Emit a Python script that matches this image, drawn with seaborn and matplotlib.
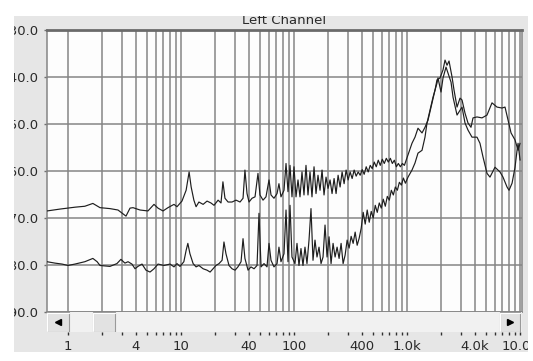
import numpy as np
import pandas as pd
import matplotlib
matplotlib.use("Agg")
import matplotlib.pyplot as plt
from matplotlib.patches import Rectangle
import seaborn as sns

# ---------------- data ----------------
title = "Left Channel"

freq_a = [0.652, 0.85, 1.153, 1.41, 1.66, 1.92, 2.35, 2.77, 3.26, 3.54, 3.76, 4.34, 5.10, 5.77, 6.26, 6.93, 7.67, 8.67, 9.22,
          10.2, 11.1, 11.8, 12.3, 13.0, 13.6, 14.4, 15.7, 17.0, 18.4, 19.6, 21.3, 22.6, 23.5, 24.5, 26.1, 28.3, 30.7, 33.3, 35.4,
          36.8, 38.4, 40.0, 42.5, 45.2, 48.0, 50.0, 53.2, 56.5, 60.1, 62.6, 66.5, 70.8, 73.6, 76.7, 81.6, 85.0, 88.5, 92.2, 96.0,
          100, 104.2, 108.5, 113, 117.7, 122.6, 127.7, 133, 138.6, 144.3, 150.4, 156.6, 163.1, 170, 177.1, 184.4, 192.1, 200.1,
          208.5, 217.2, 226.3, 235.7, 245.6, 255.8, 266.5, 277.6, 289.2, 301.3, 313.9, 327, 340.7, 354.9, 369.7, 385.2, 401.3,
          418, 435.5, 453.7, 472.7, 492.5, 513, 534.5, 556.9, 580.1, 604.4, 629.6, 656, 683.4, 712, 741.7, 772.7, 805.1, 838.7,
          873.8, 910.3, 948.3,
          1107, 1177, 1251, 1358, 1443, 1534, 1664, 1769, 1843, 1959, 2083, 2170, 2261, 2355, 2504, 2608, 2772, 2946, 3069,
          3262, 3467, 3684, 3838, 4163, 4610, 5105, 5652, 6258, 6928, 7368, 7835, 8332, 9038, 9611, 10013]
db_a = [-68.5, -68.1, -67.7, -67.5, -66.9, -67.8, -68.0, -68.3, -69.6, -67.9, -67.8, -68.3, -68.5, -67.1, -67.9, -68.5, -67.8, -67.1, -67.6,
        -66.4, -64.1, -60.2, -63.4, -66.2, -67.6, -66.6, -67.1, -66.4, -66.8, -67.3, -66.2, -66.8, -62.3, -65.8, -66.6, -66.6, -66.2, -66.6, -65.8,
        -59.8, -64.8, -66.6, -65.8, -65.5, -60.5, -65.1, -66.2, -65.5, -61.9, -65.1, -65.8, -64.8, -62.7, -65.5, -64.1, -58.4, -64.4, -58.8, -65.5,
        -59.1, -65.5, -61.9, -65.5, -60.2, -65.1, -58.8, -65.1, -60.2, -65.5, -59.1, -64.8, -60.9, -64.1, -59.8, -65.1, -61.3, -63.7,
        -61.9, -64.8, -61.6, -64.8, -60.9, -63.4, -60.2, -62.7, -59.8, -61.9, -60.2, -61.6, -59.8, -61.1, -60.2, -60.9, -59.7,
        -60.7, -59.1, -60.2, -58.8, -59.5, -58.1, -59.1, -57.7, -58.8, -57.5, -58.4, -57.3, -58.1, -57.3, -58.4, -57.7, -59.1, -58.4,
        -59.1, -58.4, -58.8,
        -54.1, -52.8, -50.9, -51.9, -50.7, -49.2, -45.5, -42.8, -40.6, -40.2, -38.5, -36.4, -37.5, -36.6, -40.0, -42.8, -46.4, -44.5, -44.9,
        -47.7, -49.8, -50.7, -48.7, -48.5, -48.7, -48.1, -45.5, -46.4, -46.6, -46.4, -49.2, -51.9, -53.4, -55.6, -54.1]

freq_b = [0.652, 0.767, 0.885, 1.0, 1.153, 1.41, 1.66, 1.81, 1.92, 2.35, 2.71, 2.94, 3.19, 3.40, 3.68, 3.92, 4.16, 4.52, 4.90, 5.32,
          5.77, 6.26, 7.07, 8.0, 8.67, 9.22, 9.80,
          10.6, 11.1, 11.5, 12.0, 12.8, 13.6, 14.4, 15.7, 17.0, 18.1, 19.2, 20.4, 21.7, 23.1, 24.0, 25.0, 26.6, 28.3, 30.1, 31.9,
          34.0, 35.4, 36.8, 39.2, 41.6, 44.3, 47.1, 49.0, 51.1, 54.3, 57.7, 60.1, 62.6, 66.5, 70.8, 73.6, 76.7, 81.6, 85.0, 88.5,
          92.2, 96.0,
          102, 106.3, 110.7, 115.3, 120.1, 125.1, 130.3, 135.8, 141.4, 147.3, 153.4, 159.8, 166.5, 173.5, 180.7, 188.2, 196.1,
          204.3, 212.8, 221.7, 231.0, 240.6, 250.6, 261.1, 272.0, 283.4, 295.2, 307.5, 320.4, 333.8, 347.7, 362.2, 377.4, 393.1,
          409.6, 426.7, 444.5, 463.1, 482.5, 502.6, 523.7, 545.6, 568.4, 592.1, 616.9, 642.7, 669.5, 697.5, 726.7, 757.1, 788.7,
          821.7, 856.1, 891.8, 929.1,
          968, 1021, 1107, 1177, 1251, 1358, 1443, 1503, 1598, 1699, 1843, 1880, 2000, 2083, 2215, 2307, 2453, 2555, 2772, 3069,
          3262, 3467, 3760, 4163, 4424, 4705, 5105, 5425, 6007, 6650, 7072, 7676, 7997, 8505, 9038, 9416, 9611, 10013]
db_b = [-79.3, -79.6, -79.8, -80.1, -79.8, -79.3, -78.6, -79.3, -80.1, -80.3, -79.7, -78.8, -79.6, -79.3, -79.8, -80.8, -80.3, -79.8, -81.1, -81.5,
        -80.8, -79.8, -80.1, -79.8, -80.4, -79.7, -80.3,
        -79.3, -76.9, -75.4, -77.6, -79.7, -80.4, -80.1, -80.8, -81.1, -81.5, -80.8, -80.1, -79.7, -79.0, -75.1, -77.6, -80.1, -80.8, -81.1, -80.4,
        -79.3, -74.4, -78.6, -81.1, -80.4, -80.8, -80.1, -69.0, -80.4, -79.7, -80.4, -75.4, -79.0, -80.4, -79.7, -76.2, -79.3, -77.6, -68.3, -79.3,
        -67.3, -78.3,
        -79.7, -75.4, -80.1, -76.5, -80.1, -76.2, -79.7, -74.7, -68.0, -79.0, -74.7, -78.3, -76.2, -79.7, -78.3, -71.5, -78.3,
        -74.0, -79.7, -75.4, -78.3, -76.2, -78.6, -75.4, -79.7, -77.9, -74.7, -76.4, -73.9, -75.4, -73.0, -75.8, -74.3, -72.2,
        -68.8, -71.3, -68.3, -70.9, -68.6, -70.0, -67.3, -68.8, -66.8, -67.9, -66.0, -67.5, -65.4, -66.2, -64.1, -65.1, -63.4,
        -64.1, -62.4, -63.0, -61.5,
        -62.6, -61.3, -59.8, -58.3, -56.2, -55.6, -52.8, -49.8, -47.0, -44.3, -41.3, -40.2, -43.2, -40.2, -37.9, -39.2, -41.1, -44.3, -48.1, -46.4,
        -49.8, -51.3, -52.8, -52.8, -54.1, -57.0, -60.5, -61.3, -59.2, -60.2, -61.3, -63.4, -64.1, -62.6, -59.2, -55.6, -54.1, -57.7]

y_ticks = [-30, -40, -50, -60, -70, -80, -90]
y_tick_labels = ["-30.0", "-40.0", "-50.0", "-60.0", "-70.0", "-80.0", "-90.0"]
x_label_ticks = [1, 4, 10, 40, 100, 400, 1000, 4000, 10000]
x_tick_labels = ["1", "4", "10", "40", "100", "400", "1.0k", "4.0k", "10.0k"]

# ---------------- figure ----------------
sns.set_theme(style="white")
plt.rcParams['font.family'] = ['DejaVu Sans']

W, H = 533, 361
fig = plt.figure(figsize=(W / 100, H / 100), dpi=100)
fig.patch.set_facecolor('#e6e6e6')


def fx(px):
    return px / W


def fy(py):
    return 1 - py / H


L, R, T, B = 47, 522, 30, 312
ax = fig.add_axes([fx(L), fy(B), fx(R) - fx(L), fy(T) - fy(B)])
ax.set_facecolor('#fdfdfd')

df = pd.concat([
    pd.DataFrame({'freq': freq_a, 'db': db_a, 'trace': 'A'}),
    pd.DataFrame({'freq': freq_b, 'db': db_b, 'trace': 'B'}),
], ignore_index=True)

sns.lineplot(data=df, x='freq', y='db', hue='trace', palette=['#1e1e1e', '#1e1e1e'],
             estimator=None, sort=False, legend=False, linewidth=0.85, ax=ax, zorder=3)

ax.set_xscale('log')
ax.set_xlim(0.652, 10416)
ax.set_ylim(-90, -30)
ax.set_xlabel('')
ax.set_ylabel('')

grid_freqs = [m * 10 ** e for e in range(0, 4) for m in range(1, 10)] + [10000]
ax.set_xticks(grid_freqs)
ax.set_xticks([], minor=True)
ax.tick_params(axis='x', which='both', length=0, labelbottom=False)
ax.set_yticks(y_ticks)
ax.set_yticklabels(y_tick_labels)
ax.tick_params(axis='y', which='major', left=True, length=2, width=1, color='#707070',
               pad=4, labelsize=9.5, labelcolor='#2a2a2a')
ax.grid(True, which='major', color='#858585', linewidth=1.1)
ax.set_axisbelow(True)

for side, sp in ax.spines.items():
    sp.set_color('#858585')
    sp.set_linewidth(1.1)
ax.spines['top'].set_color('#6a6a6a')
ax.spines['top'].set_linewidth(2.0)

# ---------------- scroll bar with x tick labels ----------------
SB_T, SB_B = 312, 332
sax = fig.add_axes([fx(L), fy(SB_B), fx(R) - fx(L), fy(SB_T) - fy(SB_B)])
sax.set_facecolor('#f1f1f1')
sax.set_xscale('log')
sax.set_xlim(0.652, 10416)
sax.set_ylim(0, 1)
sax.set_yticks([])
for sp in sax.spines.values():
    sp.set_visible(False)
sax.set_xticks(x_label_ticks)
sax.set_xticklabels(x_tick_labels)
sax.set_xticks([f for f in grid_freqs if f not in x_label_ticks], minor=True)
sax.tick_params(axis='x', which='both', bottom=True, direction='out', length=2.5, width=1.0,
                color='#303030')
sax.tick_params(axis='x', which='major', pad=3, labelsize=9.5, labelcolor='#2a2a2a')
sax.tick_params(axis='x', which='minor', labelbottom=False)

span = R - L


def button(x0, x1, face='#e2e2e2'):
    sax.add_patch(Rectangle(((x0 - L) / span, 0.0), (x1 - x0) / span, 1.0, transform=sax.transAxes,
                            facecolor=face, edgecolor='#9a9a9a', linewidth=0.8, zorder=2))
    sax.plot([(x0 - L) / span, (x0 - L) / span, (x1 - L) / span], [0.05, 0.95, 0.95],
             transform=sax.transAxes, color='white', linewidth=0.8, zorder=3)


button(47, 69)
button(93, 115)
button(500, 520)
sax.plot([(58 - L) / span], [0.5], marker='<', markersize=4, color='black', transform=sax.transAxes, zorder=4)
sax.plot([(510 - L) / span], [0.5], marker='>', markersize=4, color='black', transform=sax.transAxes, zorder=4)

# ---------------- title ----------------
fig.text(fx((L + R) / 2), fy(23.5), title, ha='center', va='baseline', fontsize=9.5, color='#2a2a2a')

# ---------------- white window edges (clip text like the screenshot) ----------------
for (x0, y0, w, h) in [(0, 0, fx(14), 1), (0, fy(16), 1, 1 - fy(16)), (fx(528), 0, 1 - fx(528), 1), (0, 0, 1, fy(352))]:
    fig.add_artist(Rectangle((x0, y0), w, h, transform=fig.transFigure, facecolor='white',
                             edgecolor='none', zorder=50))

fig.savefig('out.png', dpi=100, facecolor=fig.get_facecolor())
